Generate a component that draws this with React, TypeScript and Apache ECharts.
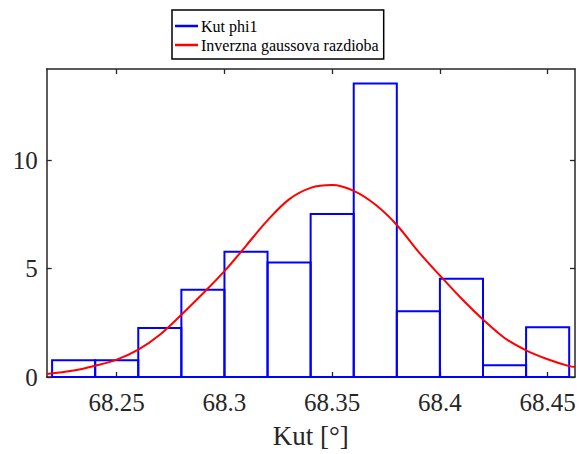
import React, { useEffect, useRef } from "react";
import * as echarts from "echarts";

// Histogram (pdf-normalised) of "Kut phi1"
const binEdges = [68.22, 68.24, 68.26, 68.28, 68.30, 68.32, 68.34, 68.36, 68.38, 68.40, 68.42, 68.44, 68.46];
const binHeights = [0.77, 0.77, 2.26, 4.02, 5.77, 5.28, 7.52, 13.53, 3.03, 4.53, 0.54, 2.29];

// Fitted inverse Gaussian pdf
const curveX = [68.2175, 68.23, 68.24, 68.25, 68.26, 68.27, 68.28, 68.29, 68.30, 68.31, 68.32, 68.33, 68.34, 68.35, 68.36, 68.37, 68.38, 68.39, 68.40, 68.41, 68.42, 68.43, 68.44, 68.45, 68.46, 68.4627];
const curveY = [0.14, 0.30, 0.52, 0.80, 1.26, 1.95, 2.87, 3.85, 4.88, 6.05, 7.22, 8.19, 8.72, 8.85, 8.58, 7.95, 7.01, 5.78, 4.68, 3.62, 2.65, 1.80, 1.23, 0.82, 0.50, 0.46];

const xTicks = [68.25, 68.3, 68.35, 68.4, 68.45];
const yTicks = [0, 5, 10];

const seriesNames = ["Kut phi1", "Inverzna gaussova razdioba"];

const FONT = '"Liberation Serif", "Times New Roman", serif';
const AX = "#262626";

export default function App() {
  const ref = useRef<HTMLDivElement>(null);
  useEffect(() => {
    if (!ref.current) return;
    const chart = echarts.init(ref.current, null, { renderer: "svg" });
    const histData = binHeights.map((h, i) => [binEdges[i], binEdges[i + 1], h]);
    const curveData = curveX.map((x, i) => [x, curveY[i]]);
    const xMin = 68.2175;
    const xMax = 68.4627;
    const yMax = 14.2;
    const tickStyle = { show: true, inside: true, length: 5, lineStyle: { color: AX, width: 1.3 } };
    chart.setOption({
      animation: false,
      grid: { left: 46.7, right: 5, top: 69, bottom: 76.5, show: false },
      legend: {
        left: 172,
        top: 10,
        orient: "vertical",
        padding: [8, 5, 6, 3],
        itemGap: 3,
        itemWidth: 23,
        itemHeight: 2.5,
        borderColor: "#000",
        borderWidth: 1.5,
        backgroundColor: "#fff",
        textStyle: { fontFamily: FONT, fontSize: 16, color: "#000", padding: [0, 0, 0, -2] },
        data: [
          { name: seriesNames[0], icon: "rect", itemStyle: { color: "#0000ff" } },
          { name: seriesNames[1], icon: "rect", itemStyle: { color: "#ff0000" } },
        ],
      },
      xAxis: [
        {
          type: "value",
          min: xMin,
          max: xMax,
          position: "bottom",
          name: "Kut [°]",
          nameLocation: "middle",
          nameGap: 45,
          nameTextStyle: { fontFamily: FONT, fontSize: 27, color: AX },
          axisLine: { show: true, onZero: false, lineStyle: { color: AX, width: 1.5 } },
          axisTick: { ...tickStyle, customValues: xTicks },
          axisLabel: {
            customValues: xTicks,
            margin: 13,
            fontFamily: FONT,
            fontSize: 25,
            color: AX,
            formatter: (v: number) => String(parseFloat(v.toFixed(2))),
          },
          splitLine: { show: false },
        },
        {
          type: "value",
          min: xMin,
          max: xMax,
          position: "top",
          axisLine: { show: true, onZero: false, lineStyle: { color: AX, width: 1.5 } },
          axisTick: { ...tickStyle, customValues: xTicks },
          axisLabel: { show: false },
          splitLine: { show: false },
        },
      ],
      yAxis: [
        {
          type: "value",
          min: 0,
          max: yMax,
          position: "left",
          axisLine: { show: true, onZero: false, lineStyle: { color: AX, width: 1.5 } },
          axisTick: { ...tickStyle, customValues: yTicks },
          axisLabel: { customValues: yTicks, margin: 9, fontFamily: FONT, fontSize: 25, color: AX },
          splitLine: { show: false },
        },
        {
          type: "value",
          min: 0,
          max: yMax,
          position: "right",
          axisLine: { show: true, onZero: false, lineStyle: { color: AX, width: 1.5 } },
          axisTick: { ...tickStyle, customValues: yTicks },
          axisLabel: { show: false },
          splitLine: { show: false },
        },
      ],
      series: [
        {
          name: seriesNames[0],
          type: "custom",
          xAxisIndex: 0,
          yAxisIndex: 0,
          encode: { x: [0, 1], y: 2 },
          data: histData,
          renderItem: (params: any, api: any) => {
            const x0 = api.value(0);
            const x1 = api.value(1);
            const h = api.value(2);
            const p0 = api.coord([x0, 0]);
            const p1 = api.coord([x1, h]);
            return {
              type: "rect",
              shape: { x: p0[0], y: p1[1], width: p1[0] - p0[0], height: p0[1] - p1[1] },
              style: { fill: "none", stroke: "#0000ff", lineWidth: 2 },
            };
          },
          z: 2,
        },
        {
          name: seriesNames[1],
          type: "line",
          xAxisIndex: 0,
          yAxisIndex: 0,
          data: curveData,
          smooth: 0.35,
          showSymbol: false,
          symbol: "none",
          lineStyle: { color: "#ff0000", width: 2 },
          itemStyle: { color: "#ff0000" },
          z: 3,
        },
      ],
    });
    return () => chart.dispose();
  }, []);
  return (
    <div
      ref={ref}
      style={{ position: "fixed", left: 0, top: 0, width: 580, height: 454, background: "#fff" }}
    />
  );
}
